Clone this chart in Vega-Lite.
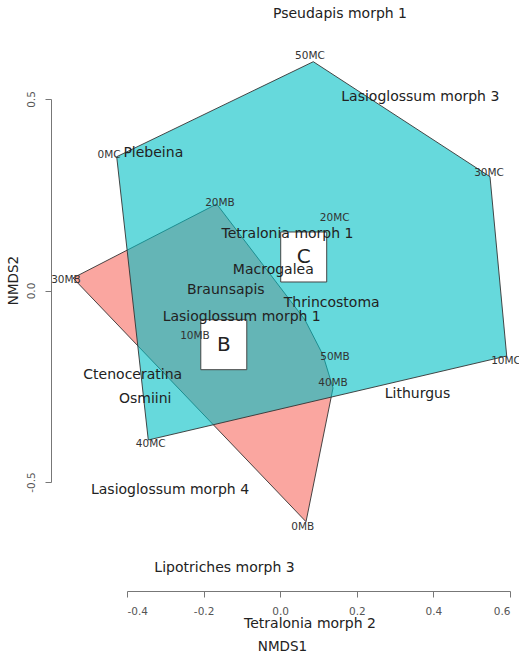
{
  "$schema": "https://vega.github.io/schema/vega-lite/v6.json",
  "description": "NMDS ordination with hulls for groups B and C, site and species labels",
  "width": 383,
  "height": 383,
  "autosize": {"type": "none"},
  "padding": {"left": 127, "top": 99, "right": 9, "bottom": 174},
  "background": "white",
  "config": {
    "view": {"stroke": null},
    "font": "DejaVu Sans",
    "text": {"font": "DejaVu Sans", "color": "#222"}
  },
  "datasets": {
    "hulls": [
      {"group": "B", "ord": 1, "NMDS1": -0.5410, "NMDS2": 0.0326},
      {"group": "B", "ord": 2, "NMDS1": -0.1658, "NMDS2": 0.2258},
      {"group": "B", "ord": 3, "NMDS1": 0.0648, "NMDS2": -0.0770},
      {"group": "B", "ord": 4, "NMDS1": 0.1117, "NMDS2": -0.1684},
      {"group": "B", "ord": 5, "NMDS1": 0.1379, "NMDS2": -0.2546},
      {"group": "B", "ord": 6, "NMDS1": 0.0674, "NMDS2": -0.6037},
      {"group": "C", "ord": 1, "NMDS1": -0.4269, "NMDS2": 0.3493},
      {"group": "C", "ord": 2, "NMDS1": 0.0864, "NMDS2": 0.5974},
      {"group": "C", "ord": 3, "NMDS1": 0.5478, "NMDS2": 0.2971},
      {"group": "C", "ord": 4, "NMDS1": 0.5914, "NMDS2": -0.1710},
      {"group": "C", "ord": 5, "NMDS1": -0.3444, "NMDS2": -0.3903}
    ],
    "sites": [
      {"site": "0MC", "NMDS1": -0.4470, "NMDS2": 0.3538},
      {"site": "50MC", "NMDS1": 0.0778, "NMDS2": 0.6123},
      {"site": "30MC", "NMDS1": 0.5452, "NMDS2": 0.3076},
      {"site": "10MC", "NMDS1": 0.5896, "NMDS2": -0.1841},
      {"site": "40MC", "NMDS1": -0.3381, "NMDS2": -0.4008},
      {"site": "20MC", "NMDS1": 0.1423, "NMDS2": 0.1885},
      {"site": "0MB", "NMDS1": 0.0590, "NMDS2": -0.6167},
      {"site": "30MB", "NMDS1": -0.5593, "NMDS2": 0.0274},
      {"site": "20MB", "NMDS1": -0.1572, "NMDS2": 0.2292},
      {"site": "10MB", "NMDS1": -0.2225, "NMDS2": -0.1201},
      {"site": "50MB", "NMDS1": 0.1431, "NMDS2": -0.1728},
      {"site": "40MB", "NMDS1": 0.1379, "NMDS2": -0.2423}
    ],
    "species": [
      {"name": "Pseudapis morph 1", "NMDS1": 0.1561, "NMDS2": 0.7219},
      {"name": "Lasioglossum morph 3", "NMDS1": 0.3658, "NMDS2": 0.5060},
      {"name": "Plebeina", "NMDS1": -0.3313, "NMDS2": 0.3582},
      {"name": "Tetralonia morph 1", "NMDS1": 0.0191, "NMDS2": 0.1475},
      {"name": "Macrogalea", "NMDS1": -0.0180, "NMDS2": 0.0535},
      {"name": "Braunsapis", "NMDS1": -0.1420, "NMDS2": 0.0013},
      {"name": "Thrincostoma", "NMDS1": 0.1345, "NMDS2": -0.0319},
      {"name": "Lasioglossum morph 1", "NMDS1": -0.1005, "NMDS2": -0.0684},
      {"name": "Ctenoceratina", "NMDS1": -0.3851, "NMDS2": -0.2206},
      {"name": "Osmiini", "NMDS1": -0.3525, "NMDS2": -0.2841},
      {"name": "Lithurgus", "NMDS1": 0.3585, "NMDS2": -0.2702},
      {"name": "Lasioglossum morph 4", "NMDS1": -0.2877, "NMDS2": -0.5209},
      {"name": "Lipotriches morph 3", "NMDS1": -0.1454, "NMDS2": -0.7253},
      {"name": "Tetralonia morph 2", "NMDS1": 0.0778, "NMDS2": -0.8715}
    ],
    "centroids": [
      {"label": "C", "NMDS1": 0.0614, "NMDS2": 0.0875},
      {"label": "B", "NMDS1": -0.1473, "NMDS2": -0.1415}
    ]
  },
  "encoding": {
    "x": {
      "field": "NMDS1",
      "type": "quantitative",
      "scale": {"domain": [-0.4, 0.6], "nice": false, "zero": false},
      "axis": {
        "title": "NMDS1",
        "values": [-0.4, -0.2, 0, 0.2, 0.4, 0.6],
        "labelExpr": "replace(format(datum.value, '.1f'), '−', '-')",
        "offset": 109,
        "grid": false,
        "domainColor": "#777",
        "tickColor": "#777",
        "tickSize": 6,
        "labelPadding": 9,
        "labelFontSize": 10.5,
        "labelColor": "#555",
        "labelFont": "DejaVu Sans",
        "titleFont": "DejaVu Sans",
        "titleFontSize": 13.5,
        "titleFontWeight": "normal",
        "titleColor": "#222",
        "titleX": 155,
        "titleY": 55,
        "titleBaseline": "middle"
      }
    },
    "y": {
      "field": "NMDS2",
      "type": "quantitative",
      "scale": {"domain": [-0.5, 0.5], "nice": false, "zero": false},
      "axis": {
        "title": "NMDS2",
        "values": [-0.5, 0, 0.5],
        "labelExpr": "replace(format(datum.value, '.1f'), '−', '-')",
        "offset": 76,
        "grid": false,
        "domainColor": "#777",
        "tickColor": "#777",
        "tickSize": 6,
        "labelAngle": 270,
        "labelAlign": "center",
        "labelBaseline": "bottom",
        "labelPadding": 9,
        "labelFontSize": 10.5,
        "labelColor": "#555",
        "labelFont": "DejaVu Sans",
        "titleFont": "DejaVu Sans",
        "titleFontSize": 13.5,
        "titleFontWeight": "normal",
        "titleColor": "#222",
        "titleAngle": 270,
        "titleX": -38,
        "titleY": 181,
        "titleBaseline": "middle"
      }
    }
  },
  "layer": [
    {
      "data": {"name": "hulls"},
      "transform": [{"filter": "datum.group == 'B'"}],
      "mark": {"type": "line", "interpolate": "linear-closed", "fill": "#F8766D", "fillOpacity": 0.65, "stroke": "#333", "strokeWidth": 0.9},
      "encoding": {"order": {"field": "ord", "type": "quantitative"}}
    },
    {
      "data": {"name": "hulls"},
      "transform": [{"filter": "datum.group == 'C'"}],
      "mark": {"type": "line", "interpolate": "linear-closed", "fill": "#00BFC4", "fillOpacity": 0.6, "stroke": "#333", "strokeWidth": 0.9},
      "encoding": {"order": {"field": "ord", "type": "quantitative"}}
    },
    {
      "data": {"name": "centroids"},
      "mark": {"type": "point", "shape": "M-0.92,-1H0.92V1H-0.92Z", "size": 2500, "filled": true, "fill": "white", "stroke": "#444", "strokeWidth": 1, "opacity": 1}
    },
    {
      "data": {"name": "centroids"},
      "mark": {"type": "text", "fontSize": 20, "color": "#222"},
      "encoding": {"text": {"field": "label"}}
    },
    {
      "data": {"name": "sites"},
      "mark": {"type": "text", "fontSize": 10.5, "color": "#333"},
      "encoding": {"text": {"field": "site"}}
    },
    {
      "data": {"name": "species"},
      "mark": {"type": "text", "fontSize": 14, "color": "#222"},
      "encoding": {"text": {"field": "name"}}
    }
  ]
}
